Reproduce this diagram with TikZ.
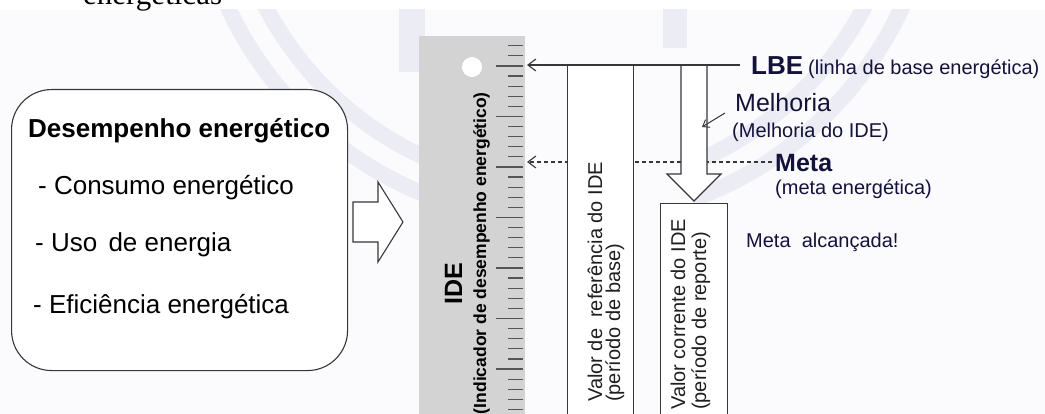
\documentclass[tikz,border=0pt]{standalone}
\usepackage{fontspec}
\setmainfont{Liberation Sans}
\newfontfamily\cutserif{Liberation Serif}
\usetikzlibrary{arrows.meta}
\definecolor{lav}{RGB}{236,236,245}
\definecolor{bgtint}{RGB}{251,251,253}
\definecolor{rulergray}{RGB}{211,211,211}
\definecolor{tickgray}{RGB}{85,85,85}
\definecolor{linegray}{RGB}{55,55,55}
\definecolor{navy}{RGB}{18,18,58}
\begin{document}
\begin{tikzpicture}[x=1pt,y=-1pt,
  outline/.style={draw=linegray, line width=1.1pt},
  barb/.style={-{Straight Barb[length=8pt,width=12pt,line width=1.1pt]}},
  smallbarb/.style={-{Straight Barb[length=6pt,width=9pt,line width=1pt]}},
  txt/.style={inner sep=0pt, anchor=base west},
  lbl/.style={inner sep=0pt, anchor=base west, text=navy},
  rottxt/.style={inner sep=0pt, rotate=90, anchor=base west, text=black!88},
  fbig/.style={font=\fontsize{26}{30}\selectfont},
  fbigb/.style={font=\bfseries\fontsize{26}{30}\selectfont},
  fmid/.style={font=\fontsize{25}{29}\selectfont},
  fmidb/.style={font=\bfseries\fontsize{25}{29}\selectfont},
  fsmall/.style={font=\fontsize{20}{23}\selectfont},
  watermark/.style={draw=lav, line width=16pt},
]
\useasboundingbox (0,0) rectangle (1045,414);
\clip (0,0) rectangle (1045,414);
% page background
\fill[white] (0,0) rectangle (1045,414);
\fill[bgtint] (0,10) rectangle (1045,414);
% cut heading text at the top
\node[txt, font=\cutserif\fontsize{31}{34}\selectfont] (cut) at (83,5) {energéticas};
% faint watermark
\begin{scope}
\clip (0,10) rectangle (1045,414);
\draw[watermark] ([shift={(163:372)}]565,-150) arc[start angle=163,end angle=110,radius=372];
\draw[watermark] ([shift={(163:338)}]565,-150) arc[start angle=163,end angle=110,radius=338];
\draw[watermark] ([shift={(17:372)}]565,-150) arc[start angle=17,end angle=70,radius=372];
\draw[watermark] ([shift={(17:338)}]565,-150) arc[start angle=17,end angle=70,radius=338];
\draw[watermark, line width=26pt] (412,0) -- (412,72);
\draw[watermark, line width=24pt] (675,0) -- (675,48);
\end{scope}

% left rounded box
\node[outline, fill=white, rounded corners=40pt, minimum width=336pt, minimum height=281pt, inner sep=0pt, anchor=north west] (perf) at (11,89) {};
\node[txt, fbigb] (title) at (28,138) {Desempenho energético};
\node[txt, fbig] (item1) at (38,195) {- Consumo energético};
\node[txt, fbig] (item2) at (35,252) {- Uso\hspace{4pt} de energia};
\node[txt, fbig] (item3) at (33,313) {- Eficiência energética};

% left block arrow
\coordinate (ba1) at (353,202);
\coordinate (ba2) at (378,202);
\coordinate (ba3) at (378,182);
\coordinate (batip) at (403,222);
\coordinate (ba5) at (378,262);
\coordinate (ba6) at (378,242);
\coordinate (ba7) at (353,242);
\draw[outline, fill=white, line join=miter] (ba1) -- (ba2) -- (ba3) -- (batip) -- (ba5) -- (ba6) -- (ba7) -- cycle;

% ruler
\node[fill=rulergray, minimum width=106pt, minimum height=380pt, inner sep=0pt, anchor=north west] (ruler) at (419,36) {};
\fill[white] (472,67) circle[radius=10];
\foreach \k in {-2,...,34}{
  \pgfmathsetmacro{\yy}{66+10.1*\k}
  \pgfmathtruncatemacro{\m}{mod(\k+100,5)}
  \ifnum\m=0
    \draw[tickgray, line width=1.4pt] (496,\yy) -- (523,\yy);
  \else
    \draw[tickgray, line width=1.2pt] (508,\yy) -- (523,\yy);
  \fi
}
\node[inner sep=0pt, rotate=90, anchor=base west, font=\bfseries\fontsize{25}{29}\selectfont] (ide) at (462,305) {IDE};
\node[inner sep=0pt, rotate=90, anchor=base east, font=\bfseries\fontsize{17.5}{20}\selectfont] (idefull) at (486,92) {(Indicador de desempenho energético)};

% dashed target line (drawn below the bars)
\coordinate (metaR) at (772,162);
\coordinate (metaTip) at (527,162);
\draw[linegray, line width=1.1pt, dash pattern=on 4pt off 3pt, barb] (metaR) -- (metaTip);

% reference bar
\node[outline, fill=white, minimum width=66pt, minimum height=370pt, inner sep=0pt, anchor=north west] (refbar) at (567,65) {};
\node[rottxt, fsmall] (ref1) at (602,402) {Valor de\ \ referência do IDE};
\node[rottxt, fsmall] (ref2) at (620,402) {(período de base)};

% improvement block arrow
\coordinate (m1) at (681,65);
\coordinate (m2) at (681,174);
\coordinate (m3) at (667,174);
\coordinate (mtip) at (694,201);
\coordinate (m5) at (721,174);
\coordinate (m6) at (707,174);
\coordinate (m7) at (707,65);
\fill[white] (m1) -- (m2) -- (m3) -- (mtip) -- (m5) -- (m6) -- (m7) -- cycle;
\draw[outline, line join=miter] (m1) -- (m2) -- (m3) -- (mtip) -- (m5) -- (m6) -- (m7);

% current value box
\node[outline, fill=white, minimum width=67pt, minimum height=230pt, inner sep=0pt, anchor=north west] (curbox) at (660,203) {};
\node[rottxt, fsmall] (cur1) at (685,410) {Valor corrente do IDE};
\node[rottxt, fsmall] (cur2) at (706,410) {(período de reporte)};

% baseline line
\coordinate (lbeR) at (740,65);
\coordinate (lbeTip) at (527,65);
\draw[linegray, line width=1.1pt, barb] (lbeR) -- (lbeTip);

% small pointer for Melhoria
\coordinate (melS) at (725,113);
\coordinate (melE) at (702,127);
\draw[linegray, line width=1pt, smallbarb] (melS) -- (melE);

% right labels
\node[lbl, fbigb] (lbe) at (751,75) {LBE};
\node[lbl, fsmall] (lbetxt) at (808,75) {(linha de base energética)};
\node[lbl, fmid] (mel) at (735,112) {Melhoria};
\node[lbl, fsmall] (meltxt) at (732,138) {(Melhoria do IDE)};
\node[lbl, fmidb] (meta) at (775,172) {Meta};
\node[lbl, fsmall] (metatxt) at (775,195) {(meta energética)};
\node[lbl, fsmall] (ok) at (746,248) {Meta\ \ alcançada!};
\end{tikzpicture}
\end{document}
